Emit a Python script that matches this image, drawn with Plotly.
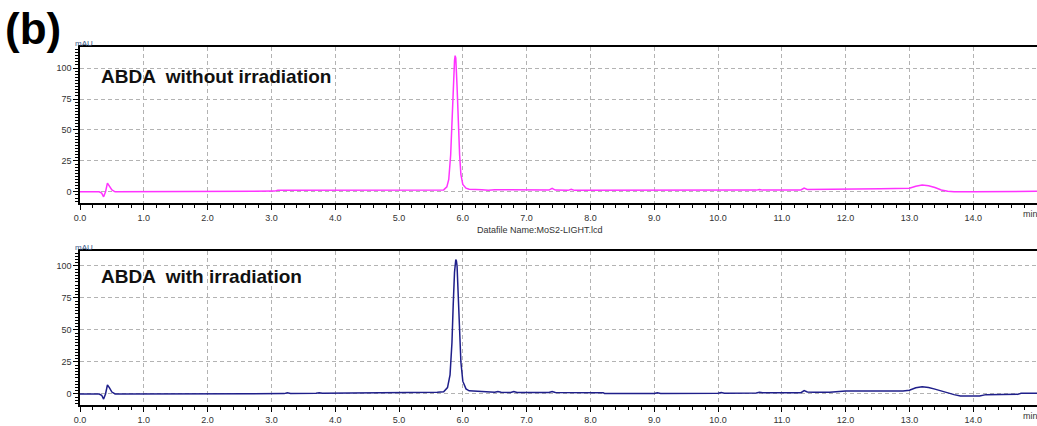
import plotly.graph_objects as go

# ---- data ----
t_top = [0.0, 0.05, 0.1, 0.3, 0.34, 0.37, 0.40, 0.43, 0.46, 0.50, 0.55, 1.0, 2.0, 3.0, 3.05, 3.1, 4.0, 5.0,
         5.6, 5.7, 5.75, 5.78, 5.81, 5.83, 5.85, 5.87, 5.88, 5.89, 5.91, 5.93, 5.95, 5.97, 6.0, 6.05, 6.1,
         6.3, 6.4, 6.5, 7.0, 7.05, 7.1, 7.35, 7.4, 7.45, 7.65, 7.7, 7.75, 9.0, 10.0, 10.6, 10.65, 10.7,
         11.3, 11.35, 11.4, 12.0, 12.5, 12.55, 13.0, 13.1, 13.2, 13.3, 13.4, 13.5, 13.6, 13.7, 14.0, 14.4,
         14.45, 15.0]
y_top = [0, 0.3, 0, 0, -1, -4, 0, 7, 5, 1.5, 0, 0, 0, 0, 0.6, 1.2, 1.2, 1.3,
         1.3, 1.6, 4, 10, 30, 60, 90, 106, 110, 108, 85, 55, 30, 14, 6, 3, 2.2,
         1.8, 1.3, 1.8, 1.5, 1.8, 1.3, 1.4, 2.8, 1.4, 1.2, 2.0, 1.2, 1.2, 1.3, 1.4, 1.9, 1.4,
         1.5, 3.0, 2.0, 2.0, 2.0, 2.6, 3.0, 4.6, 5.5, 5.0, 3.5, 1.5, 0.5, 0.0, 0.0, 0.0,
         0.4, 0.5]

t_bot = [0.0, 0.1, 0.3, 0.34, 0.37, 0.40, 0.43, 0.46, 0.50, 0.55, 1.0, 2.0, 3.0, 3.2, 3.25, 3.3, 3.7,
         3.75, 3.8, 4.7, 4.75, 5.0, 5.6, 5.7, 5.76, 5.8, 5.83, 5.85, 5.87, 5.89, 5.90, 5.91, 5.93, 5.95,
         5.97, 6.0, 6.05, 6.1, 6.3, 6.5, 6.55, 6.6, 6.75, 6.8, 6.85, 7.35, 7.4, 7.45, 8.2, 8.22, 9.0,
         9.05, 9.1, 9.7, 9.75, 9.8, 10.0, 10.05, 10.1, 10.6, 10.65, 10.7, 11.3, 11.35, 11.4, 11.5,
         11.75, 12.0, 12.9, 13.0, 13.1, 13.2, 13.3, 13.4, 13.5, 13.6, 13.7, 13.8, 14.1, 14.2, 14.7,
         14.75, 15.0]
y_bot = [0, 0, 0, -1, -4, 0, 7, 5, 1.5, 0, 0, 0, 0.2, 0.3, 1.0, 0.4, 0.5,
         1.0, 0.6, 0.8, 1.2, 1.2, 1.3, 1.8, 5, 15, 40, 70, 95, 105, 104, 100, 80, 50,
         25, 10, 4, 2.5, 2.0, 1.3, 2.0, 1.3, 1.2, 2.0, 1.2, 1.2, 2.0, 1.1, 1.0, 0.4, 0.4,
         1.0, 0.4, 0.5, 1.0, 0.5, 0.6, 1.2, 0.6, 0.7, 1.4, 0.9, 1.0, 2.6, 1.6, 1.3,
         1.3, 2.3, 2.3, 3.0, 4.8, 5.6, 5.0, 3.8, 2.2, 0.8, -0.5, -1.5, -1.5, -0.5, -0.3,
         0.5, 0.5]

x_ticks = [0, 1, 2, 3, 4, 5, 6, 7, 8, 9, 10, 11, 12, 13, 14]
x_labels = ["0.0", "1.0", "2.0", "3.0", "4.0", "5.0", "6.0", "7.0", "8.0", "9.0", "10.0",
            "11.0", "12.0", "13.0", "14.0"]
y_ticks = [0, 25, 50, 75, 100]

W, H = 1037, 426
fig = go.Figure()
fig.add_trace(go.Scatter(x=t_top, y=y_top, mode="lines", line=dict(color="#ff33ff", width=1.5),
                         xaxis="x", yaxis="y", showlegend=False))
fig.add_trace(go.Scatter(x=t_bot, y=y_bot, mode="lines", line=dict(color="#1f1f8a", width=1.5),
                         xaxis="x2", yaxis="y2", showlegend=False))

def px_y(p):
    return 1 - p / H

xdom = [80 / W, 1.0]
tick_font = dict(family="Arial, Liberation Sans", size=9, color="#333333")
grid_col = "#b3b3b3"
common_x = dict(range=[0, 15], tickvals=x_ticks, ticktext=x_labels, showline=True, linecolor="black",
                linewidth=1.5, mirror=True, ticks="outside", ticklen=5, tickwidth=1.2, tickcolor="black",
                showgrid=True, gridcolor=grid_col, griddash="4px,3px", gridwidth=1, zeroline=False,
                tickfont=tick_font, domain=xdom, automargin=False,
                minor=dict(dtick=0.2, tick0=0, ticks="outside", ticklen=3, tickcolor="black", showgrid=False))
common_y = dict(tickvals=y_ticks, showline=True, linecolor="black", linewidth=1.5, mirror=True,
                ticks="outside", ticklen=5, tickwidth=1.2, tickcolor="black", showgrid=True,
                gridcolor=grid_col, griddash="4px,3px", gridwidth=1, zeroline=False, tickfont=tick_font,
                automargin=False,
                minor=dict(dtick=2.5, tick0=0, ticks="outside", ticklen=3, tickcolor="black", showgrid=False))

fig.update_layout(
    width=W, height=H, margin=dict(l=0, r=0, t=0, b=0), autosize=False,
    paper_bgcolor="white", plot_bgcolor="white",
    xaxis=dict(common_x, anchor="y"),
    yaxis=dict(common_y, range=[-9, 117], domain=[px_y(203), px_y(47)], anchor="x"),
    xaxis2=dict(common_x, anchor="y2"),
    yaxis2=dict(common_y, range=[-8.6, 111.7], domain=[px_y(405), px_y(251)], anchor="x2"),
)

ann = [
    dict(text="<b>(b)</b>", x=3 / W, y=px_y(29), xanchor="left", yanchor="middle",
         font=dict(family="Arial, Liberation Sans", size=44, color="black")),
    dict(text="<b>ABDA  without irradiation</b>", x=99 / W, y=px_y(76), xanchor="left", yanchor="middle",
         font=dict(family="Arial, Liberation Sans", size=19, color="#111111")),
    dict(text="<b>ABDA  with irradiation</b>", x=99 / W, y=px_y(276), xanchor="left", yanchor="middle",
         font=dict(family="Arial, Liberation Sans", size=19, color="#111111")),
    dict(text="Datafile Name:MoS2-LIGHT.lcd", x=540 / W, y=px_y(230), xanchor="center", yanchor="middle",
         font=dict(family="Arial, Liberation Sans", size=9, color="#333333")),
    dict(text="mAU", x=73 / W, y=px_y(43), xanchor="left", yanchor="middle",
         font=dict(family="Arial, Liberation Sans", size=8, color="#3a5a8a")),
    dict(text="mAU", x=73 / W, y=px_y(247), xanchor="left", yanchor="middle",
         font=dict(family="Arial, Liberation Sans", size=8, color="#3a5a8a")),
    dict(text="min", x=1021 / W, y=px_y(214), xanchor="left", yanchor="middle",
         font=dict(family="Arial, Liberation Sans", size=9, color="#333333")),
    dict(text="min", x=1021 / W, y=px_y(416), xanchor="left", yanchor="middle",
         font=dict(family="Arial, Liberation Sans", size=9, color="#333333")),
]
for a in ann:
    a.update(xref="paper", yref="paper", showarrow=False)
fig.update_layout(annotations=ann)

fig.write_html("out.html", config={"responsive": False, "displayModeBar": False},
               post_script="document.body.style.margin='0';document.body.style.overflow='hidden';")
